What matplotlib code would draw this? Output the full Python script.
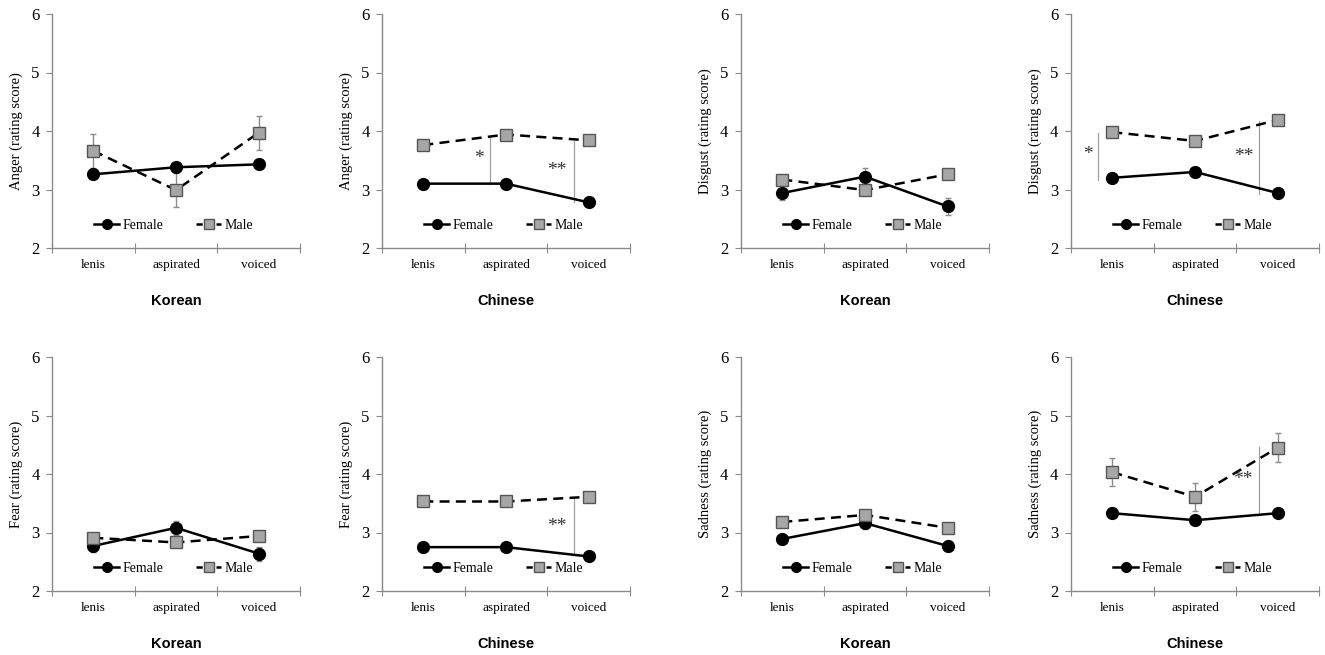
import numpy as np
import matplotlib
matplotlib.use('Agg')
import matplotlib.pyplot as plt
from matplotlib.lines import Line2D

plt.rcParams['font.family'] = ['Liberation Serif', 'DejaVu Serif']

categories = ['lenis', 'aspirated', 'voiced']

# order: Anger-K, Anger-C, Disgust-K, Disgust-C, Fear-K, Fear-C, Sadness-K, Sadness-C
emotions = ['Anger', 'Anger', 'Disgust', 'Disgust', 'Fear', 'Fear', 'Sadness', 'Sadness']
languages = ['Korean', 'Chinese', 'Korean', 'Chinese', 'Korean', 'Chinese', 'Korean', 'Chinese']

female = [
    [3.26, 3.38, 3.43],
    [3.10, 3.10, 2.78],
    [2.94, 3.22, 2.71],
    [3.20, 3.30, 2.94],
    [2.77, 3.08, 2.64],
    [2.75, 2.75, 2.59],
    [2.89, 3.16, 2.77],
    [3.33, 3.21, 3.33],
]
female_err = [
    [0.06, 0.06, 0.05],
    [0.06, 0.06, 0.06],
    [0.12, 0.15, 0.14],
    [0.08, 0.07, 0.07],
    [0.10, 0.12, 0.12],
    [0.04, 0.04, 0.04],
    [0.09, 0.10, 0.09],
    [0.04, 0.04, 0.04],
]
male = [
    [3.66, 2.99, 3.97],
    [3.76, 3.94, 3.84],
    [3.17, 2.99, 3.26],
    [3.98, 3.83, 4.19],
    [2.91, 2.83, 2.94],
    [3.53, 3.53, 3.61],
    [3.18, 3.30, 3.08],
    [4.03, 3.61, 4.45],
]
male_err = [
    [0.29, 0.29, 0.29],
    [0.05, 0.05, 0.05],
    [0.07, 0.05, 0.05],
    [0.06, 0.05, 0.07],
    [0.05, 0.05, 0.05],
    [0.05, 0.05, 0.05],
    [0.05, 0.06, 0.05],
    [0.24, 0.24, 0.25],
]

# significance marks: panel index, x of line, y bottom, y top, label, label x, label y
sig_panel = [1, 1, 3, 3, 5, 7]
sig_x = [0.81, 1.82, -0.17, 1.78, 1.82, 1.77]
sig_y0 = [3.10, 2.79, 3.16, 2.93, 2.61, 3.35]
sig_y1 = [3.91, 3.83, 3.97, 4.17, 3.60, 4.46]
sig_text = ['*', '**', '*', '**', '**', '**']
sig_tx = [0.67, 1.62, -0.30, 1.59, 1.62, 1.58]
sig_ty = [3.53, 3.33, 3.59, 3.56, 3.10, 3.91]

W, H = 1325, 655
lefts = [52, 382, 741, 1071]
width = 248
tops = [14, 357]
height = 234

fig = plt.figure(figsize=(W / 100, H / 100), dpi=100)
x = np.arange(len(categories))
axis_col = '#8a8a8a'

for i in range(8):
    row, col = divmod(i, 4)
    ax = fig.add_axes([lefts[col] / W, 1 - (tops[row] + height) / H, width / W, height / H])

    ax.errorbar(x, female[i], yerr=female_err[i], fmt='none', ecolor='#8c8c8c',
                elinewidth=1, capsize=2.5, zorder=2)
    ax.errorbar(x, male[i], yerr=male_err[i], fmt='none', ecolor='#8c8c8c',
                elinewidth=1, capsize=2.5, zorder=2)
    ax.plot(x, female[i], color='black', lw=1.8, marker='o', ms=8.5,
            mfc='black', mec='black', zorder=3)
    ax.plot(x, male[i], color='black', lw=1.8, ls=(0, (4, 2.5)), marker='s', ms=8,
            mfc='#a6a6a6', mec='#555555', mew=1, zorder=3)

    for k in range(len(sig_panel)):
        if sig_panel[k] == i:
            ax.plot([sig_x[k], sig_x[k]], [sig_y0[k], sig_y1[k]], color='#a0a0a0', lw=0.9, zorder=1)
            ax.text(sig_tx[k], sig_ty[k], sig_text[k], ha='center', va='center',
                    fontsize=14, color='#333333')

    ax.set_xlim(-0.5, 2.5)
    ax.set_ylim(2, 6)
    ax.set_yticks([2, 3, 4, 5, 6])
    ax.set_xticks([-0.5, 0.5, 1.5, 2.5])
    ax.set_xticklabels([])
    ax.tick_params(axis='x', which='major', direction='inout', length=7, color=axis_col)
    ax.tick_params(axis='y', direction='out', length=4, color=axis_col, labelsize=12, pad=5)
    for s in ['top', 'right']:
        ax.spines[s].set_visible(False)
    for s in ['left', 'bottom']:
        ax.spines[s].set_color(axis_col)
        ax.spines[s].set_linewidth(1)

    # category labels on a common baseline
    for j, c in enumerate(categories):
        ax.text(x[j], -0.085, c, transform=ax.get_xaxis_transform(), ha='center',
                va='baseline', fontsize=9.5)

    ax.set_ylabel(emotions[i] + ' (rating score)', fontsize=10.5, labelpad=6)
    ax.text(0.5, -0.225, languages[i], transform=ax.transAxes, ha='center', va='center',
            fontsize=10.5, fontweight='bold', family='Liberation Sans')

    handles = [
        Line2D([], [], color='black', lw=1.8, marker='o', ms=7, mfc='black'),
        Line2D([], [], color='black', lw=1.8, ls=(0, (2.5, 1.5)), marker='s', ms=6.5,
               mfc='#a6a6a6', mec='#555555'),
    ]
    ax.legend(handles, ['Female', 'Male'], ncol=2, frameon=False, loc='center',
              bbox_to_anchor=(0.49, 0.095), fontsize=10, handlelength=1.8,
              handletextpad=0.2, columnspacing=2.4, borderaxespad=0)

fig.savefig('out.png', dpi=100)
